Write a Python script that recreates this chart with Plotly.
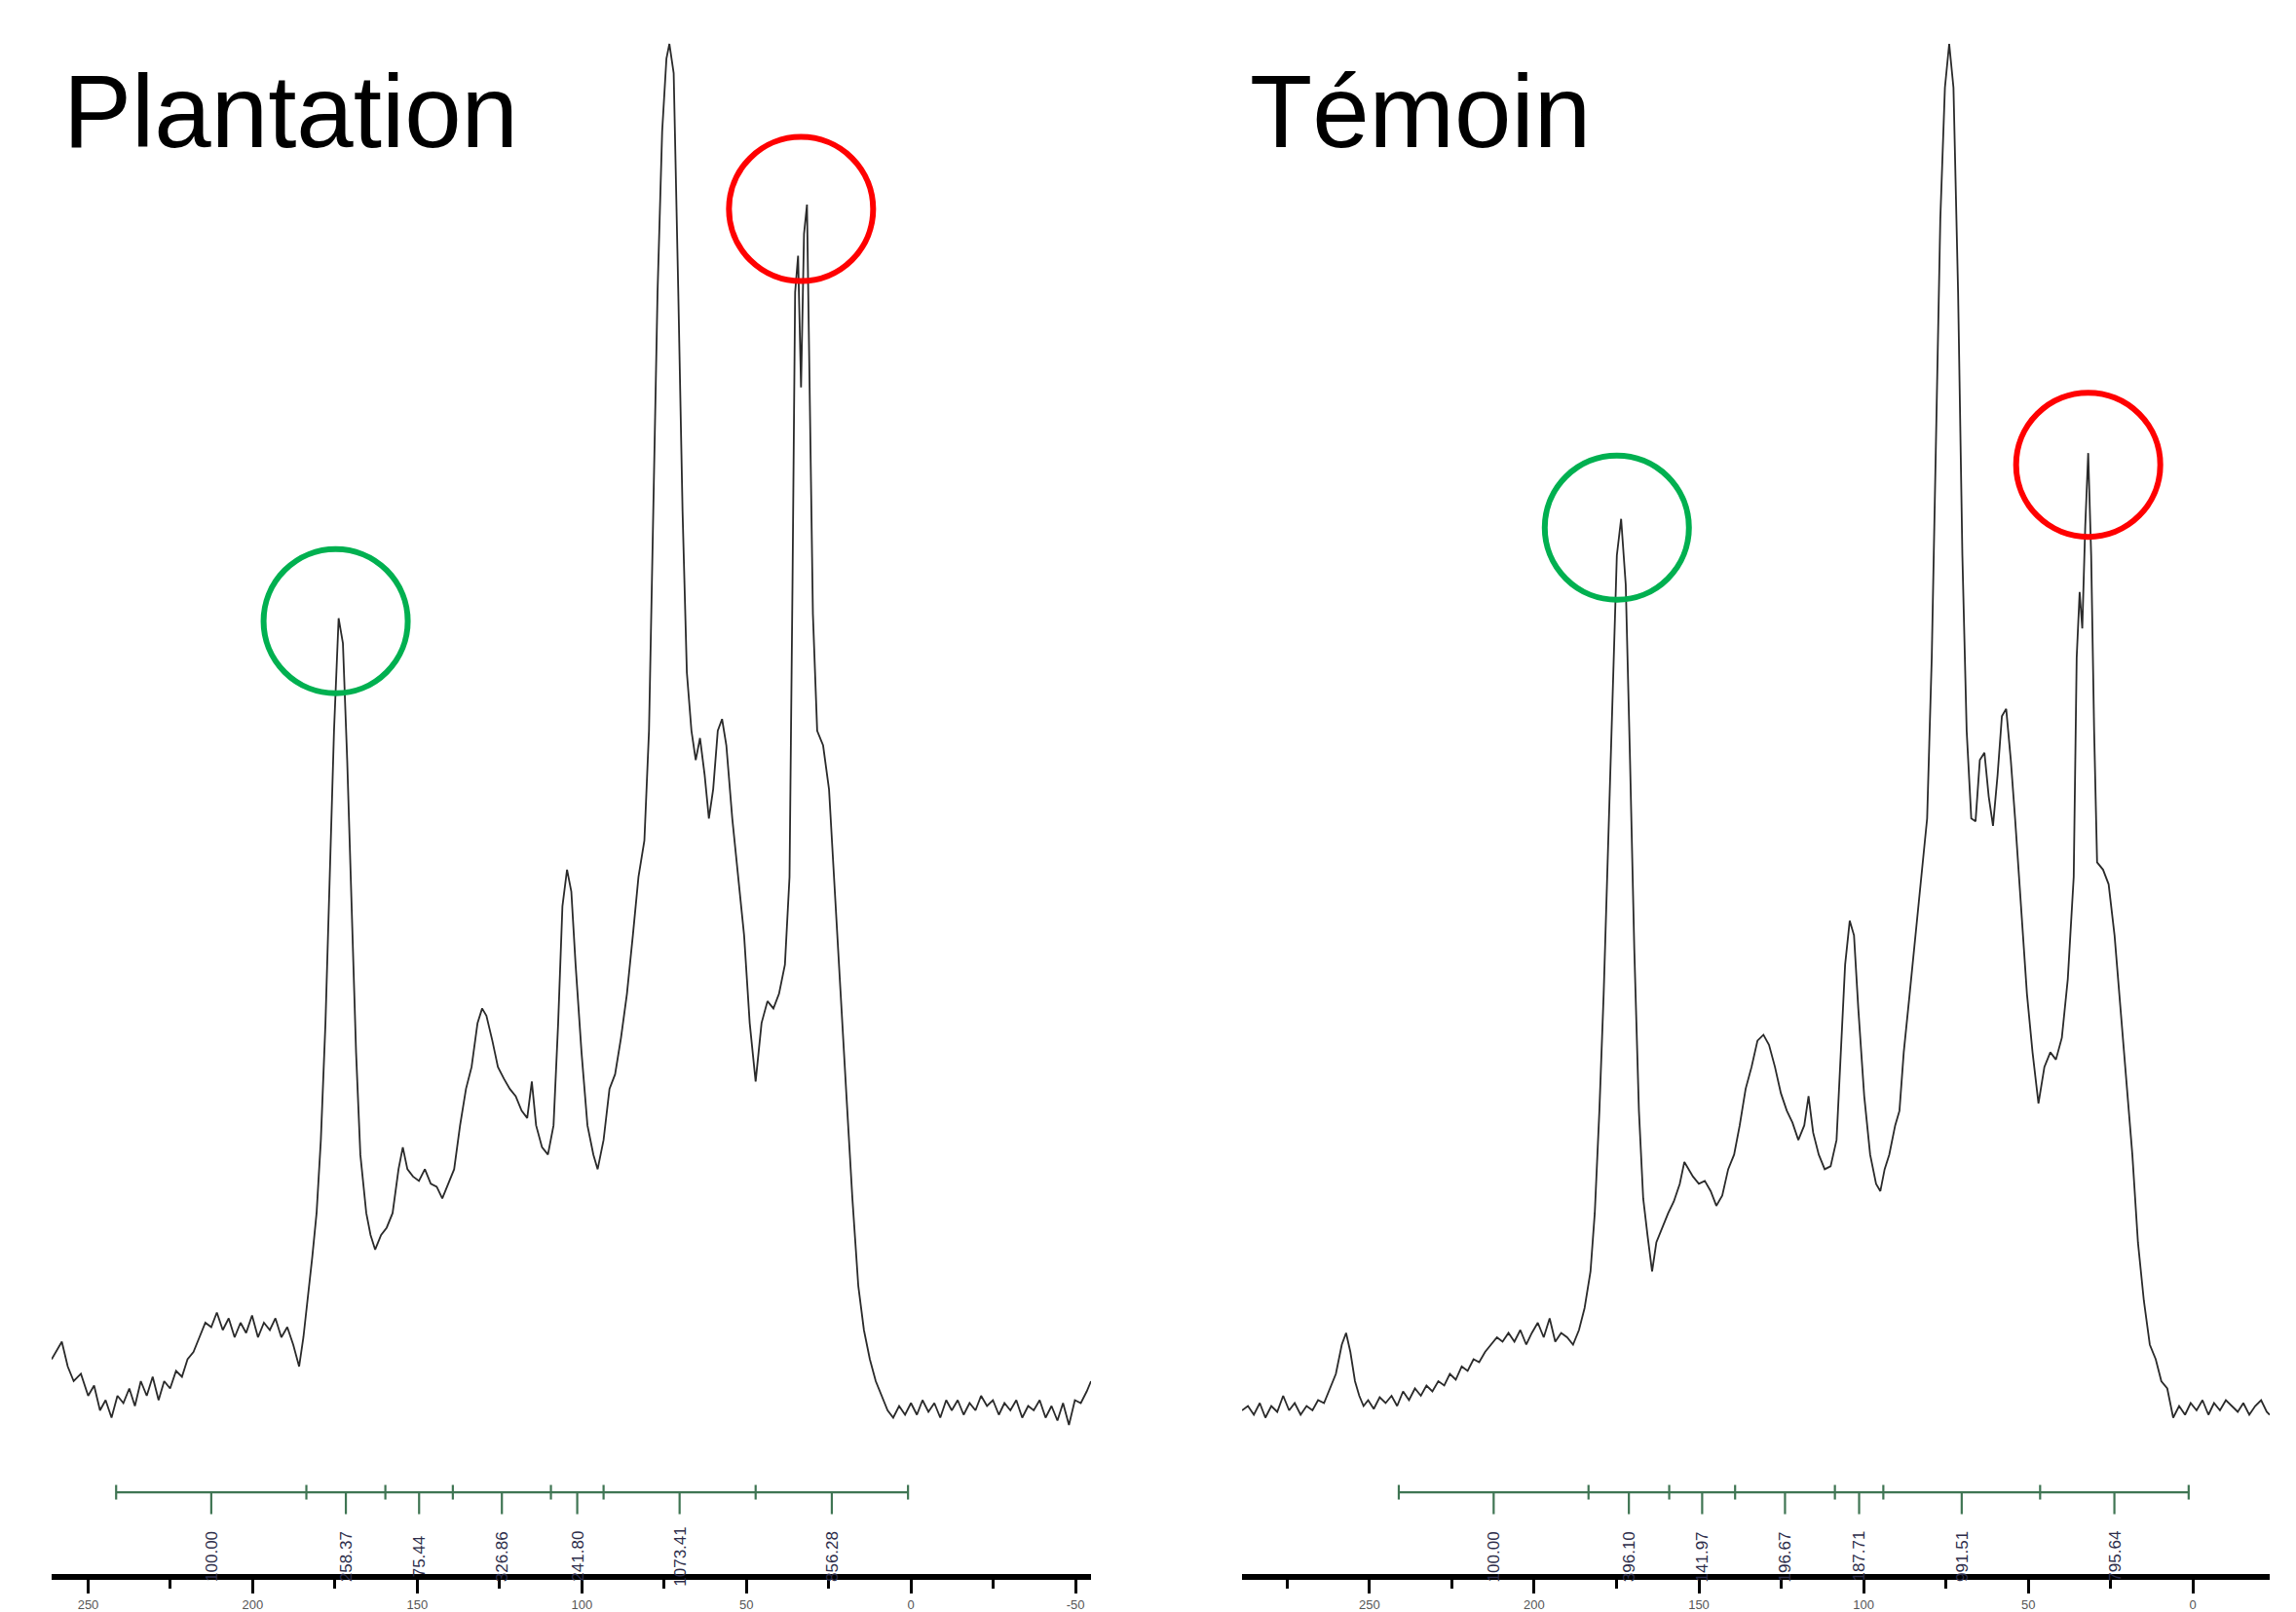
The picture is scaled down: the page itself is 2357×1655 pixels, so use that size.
import plotly.graph_objects as go

# ---------------- data (13C NMR spectra, ppm vs intensity) ----------------
plantation_ppm = [261.1, 259.8, 258.0, 256.2, 254.4, 252.2, 250.0, 248.2, 246.4, 244.7, 242.9, 241.1,
                  239.3, 237.5, 235.8, 234.0, 232.2, 230.4, 228.6, 226.9, 225.1, 223.3, 221.5, 219.8,
                  218.0, 216.2, 214.4, 212.6, 210.9, 209.1, 207.3, 205.5, 203.7, 202.0, 200.2, 198.4,
                  196.6, 194.8, 193.1, 191.3, 189.5, 187.7, 185.9, 184.6, 183.3, 181.9, 180.6, 179.3,
                  177.9, 176.6, 175.3, 173.9, 172.6, 171.3, 169.9, 168.6, 167.3, 165.5, 164.2, 162.8,
                  161.0, 159.3, 157.5, 155.7, 154.4, 153.0, 151.3, 149.5, 147.7, 145.9, 144.1, 142.4,
                  140.6, 138.8, 137.0, 135.2, 133.5, 131.7, 130.3, 129.0, 127.2, 125.5, 123.7, 121.9,
                  120.1, 118.3, 116.6, 115.2, 113.9, 112.1, 110.3, 108.6, 107.2, 105.9, 104.5, 103.2,
                  101.9, 100.1, 98.3, 96.5, 95.2, 93.4, 91.6, 89.9, 88.1, 86.3, 84.5, 82.8, 81.0,
                  79.6, 78.3, 77.0, 75.6, 74.3, 73.4, 72.1, 70.7, 69.4, 68.1, 66.7, 65.4, 64.1, 62.7,
                  61.4, 60.1, 58.7, 57.4, 56.1, 54.3, 52.5, 50.7, 49.0, 47.2, 45.4, 43.6, 41.8, 40.1,
                  38.3, 36.9, 36.0, 35.2, 34.3, 33.4, 32.5, 31.6, 30.7, 29.8, 28.5, 26.7, 24.9, 23.2,
                  21.4, 19.6, 17.8, 16.0, 14.3, 12.5, 10.7, 8.9, 7.1, 5.4, 3.6, 1.8, 0.0, -1.8, -3.5,
                  -5.3, -7.1, -8.9, -10.7, -12.4, -14.2, -16.0, -17.8, -19.6, -21.3, -23.1, -24.9,
                  -26.7, -28.4, -30.2, -32.0, -33.8, -35.6, -37.3, -39.1, -40.9, -42.7, -44.5, -46.2,
                  -48.0, -49.8, -51.6, -53.4, -54.7]
plantation_int = [70, 75, 82, 65, 55, 60, 45, 52, 35, 42, 30, 45,
                  40, 50, 38, 55, 45, 58, 42, 55, 50, 62, 58, 70,
                  75, 85, 95, 92, 102, 90, 98, 85, 95, 88, 100, 85,
                  95, 90, 98, 85, 92, 80, 65, 85, 110, 140, 170, 220,
                  300, 400, 500, 577, 560, 480, 380, 280, 210, 170, 155, 145,
                  155, 160, 170, 200, 215, 200, 195, 192, 200, 190, 188, 180,
                  190, 200, 230, 255, 270, 300, 310, 305, 288, 270, 262, 255,
                  250, 240, 235, 260, 230, 215, 210, 230, 300, 380, 405, 390,
                  340, 280, 230, 210, 200, 220, 255, 265, 290, 320, 360, 400, 425,
                  500, 650, 800, 910, 960, 970, 950, 800, 650, 540, 500, 480, 495, 470,
                  440, 460, 500, 508, 490, 440, 400, 360, 300, 260, 300, 315, 310, 320,
                  340, 400, 600, 800, 825, 735, 840, 860, 720, 580, 500, 490, 460, 390,
                  320, 250, 180, 120, 90, 70, 55, 45, 35, 30, 38, 32, 40, 32, 42,
                  34, 40, 30, 42, 35, 42, 32, 40, 35, 45, 38, 42,
                  32, 40, 35, 42, 30, 38, 35, 42, 30, 38, 28, 40,
                  25, 42, 40, 48, 55]

temoin_ppm = [288.7, 286.9, 285.1, 283.3, 281.6, 279.8, 278.0, 276.2, 274.4, 272.7, 270.9, 269.1,
              267.3, 265.6, 263.8, 262.0, 260.2, 258.4, 257.1, 255.8, 254.4, 253.1, 251.8, 250.4,
              248.7, 246.9, 245.1, 243.3, 241.6, 239.8, 238.0, 236.2, 234.4, 232.7, 230.9, 229.1,
              227.3, 225.6, 223.8, 222.0, 220.2, 218.4, 216.7, 214.9, 213.1, 211.3, 209.6, 207.8,
              206.0, 204.2, 202.4, 200.7, 198.9, 197.1, 195.3, 193.6, 191.8, 190.0, 188.2, 186.4,
              184.7, 182.9, 181.6, 180.2, 178.9, 177.6, 176.2, 174.9, 173.6, 172.2, 170.9, 169.6,
              168.2, 166.9, 165.6, 164.2, 162.9, 161.1, 159.3, 157.6, 155.8, 154.4, 153.1, 151.8,
              150.0, 148.2, 146.4, 144.7, 142.9, 141.1, 139.3, 137.6, 135.8, 134.0, 132.2, 130.4,
              128.7, 126.9, 125.1, 123.3, 121.6, 119.8, 118.0, 116.7, 115.3, 113.6, 111.8, 110.0,
              108.2, 106.9, 105.6, 104.2, 102.9, 101.6, 99.8, 98.0, 96.2, 94.9, 93.6, 92.2,
              90.4, 89.1, 87.8, 86.0, 84.2, 82.4, 80.7, 79.3, 78.0, 76.7, 75.3, 74.0,
              72.7, 71.3, 70.0, 68.7, 67.3, 66.0, 64.7, 63.3, 62.0, 60.7, 59.3, 58.0,
              56.7, 55.3, 54.0, 52.2, 50.4, 48.7, 46.9, 45.1, 43.3, 41.6, 39.8, 38.0,
              36.2, 35.3, 34.4, 33.6, 32.7, 31.8, 30.9, 30.0, 29.1, 27.3, 25.6, 23.8,
              22.0, 20.2, 18.4, 16.7, 14.9, 13.1, 11.3, 9.6, 7.8, 6.0, 4.2, 2.4,
              0.7, -1.1, -2.9, -4.7, -6.4, -8.2, -10.0, -11.8, -13.6, -15.3, -17.1, -18.9,
              -20.7, -22.4, -23.3]
temoin_int = [35, 38, 32, 40, 30, 38, 34, 45, 35, 40, 32, 38,
              35, 42, 40, 50, 60, 80, 88, 75, 55, 45, 38, 42,
              36, 44, 40, 45, 38, 48, 42, 50, 45, 52, 48, 55,
              52, 60, 56, 65, 62, 70, 68, 75, 80, 85, 82, 88,
              82, 90, 80, 88, 95, 85, 98, 82, 88, 85, 80, 90,
              105, 130, 170, 240, 320, 420, 530, 620, 645, 600, 480, 350,
              240, 180, 155, 130, 150, 160, 170, 178, 190, 205, 200, 195,
              190, 192, 185, 175, 182, 200, 210, 230, 255, 270, 288, 292,
              285, 270, 252, 240, 232, 220, 230, 250, 225, 210, 200, 202,
              220, 280, 340, 370, 360, 310, 250, 210, 190, 185, 200, 210,
              230, 240, 280, 320, 360, 400, 440, 550, 700, 850, 940, 970,
              940, 800, 620, 500, 440, 438, 480, 485, 455, 435, 470, 510,
              515, 480, 440, 380, 320, 280, 245, 270, 280, 275, 290, 330,
              400, 550, 595, 570, 640, 690, 620, 500, 410, 405, 395, 360,
              310, 260, 210, 150, 110, 80, 70, 55, 50, 30, 38, 32,
              40, 35, 42, 32, 40, 35, 42, 38, 34, 40, 32, 38,
              42, 34, 32]

panel_titles = ["Plantation", "Témoin"]

# integration regions (ppm boundaries) and integral values
plantation_int_bounds = [241.5, 183.7, 159.7, 139.2, 109.4, 93.4, 47.2, 0.9]
plantation_int_labels = ["100.00", "258.37", "75.44", "326.86", "241.80", "1073.41", "856.28"]
temoin_int_bounds = [241.1, 183.5, 159.0, 139.0, 108.7, 94.0, 46.4, 1.3]
temoin_int_labels = ["100.00", "396.10", "141.97", "196.67", "187.71", "991.51", "795.64"]

# highlighted peaks (centre ppm, intensity)
plantation_green = (174.8, 575)
plantation_red = (33.4, 857)
temoin_green = (174.9, 639)
temoin_red = (31.8, 682)

# axis ticks
plantation_ticks = [250, 200, 150, 100, 50, 0, -50]
temoin_ticks = [250, 200, 150, 100, 50, 0]

# ---------------- figure ----------------
W, H = 2357, 1655
BAR_Y = -21
STEM_Y = -36
LABEL_Y = -65
YMIN, YMAX = -77, 1000
SPEC_COLOR = "#2a2a2a"
BAR_COLOR = "#3f7553"
LABEL_COLOR = "#2d2d4a"

fig = go.Figure()

panels = [
    dict(ppm=plantation_ppm, inten=plantation_int, bounds=plantation_int_bounds,
         labels=plantation_int_labels, green=plantation_green, red=plantation_red,
         xa="x", ya="y"),
    dict(ppm=temoin_ppm, inten=temoin_int, bounds=temoin_int_bounds,
         labels=temoin_int_labels, green=temoin_green, red=temoin_red,
         xa="x2", ya="y2"),
]

annotations = []
shapes = []
for p in panels:
    fig.add_trace(go.Scatter(x=p["ppm"], y=p["inten"], mode="lines",
                             line=dict(color=SPEC_COLOR, width=1.8),
                             xaxis=p["xa"], yaxis=p["ya"], showlegend=False, hoverinfo="skip"))
    b = p["bounds"]
    # integration bar with end ticks
    bx, by = [b[0], b[-1]], [BAR_Y, BAR_Y]
    for v in b:
        bx += [None, v, v]
        by += [None, BAR_Y + 5, BAR_Y - 5]
    mids = [(b[i] + b[i + 1]) / 2 for i in range(len(b) - 1)]
    for m in mids:
        bx += [None, m, m]
        by += [None, BAR_Y, STEM_Y]
    fig.add_trace(go.Scatter(x=bx, y=by, mode="lines",
                             line=dict(color=BAR_COLOR, width=2.2),
                             xaxis=p["xa"], yaxis=p["ya"], showlegend=False, hoverinfo="skip"))
    for m, lab in zip(mids, p["labels"]):
        annotations.append(dict(x=m, y=LABEL_Y, xref=p["xa"], yref=p["ya"], text=lab,
                                showarrow=False, textangle=-90,
                                font=dict(family="Liberation Sans", size=17, color=LABEL_COLOR)))
    for (cx, cy), col in ((p["green"], "#00B050"), (p["red"], "#FF0000")):
        shapes.append(dict(type="circle", xref=p["xa"], yref=p["ya"],
                           xsizemode="pixel", ysizemode="pixel",
                           xanchor=cx, yanchor=cy, x0=-74, x1=74, y0=-74, y1=74,
                           line=dict(color=col, width=6)))

title_pos = [63 / W, 1281 / W]
for t, xp in zip(panel_titles, title_pos):
    annotations.append(dict(x=xp, y=1 - 115 / H, xref="paper", yref="paper", text=t,
                            showarrow=False, xanchor="left", yanchor="middle",
                            font=dict(family="Liberation Sans, Arial", size=105, color="black")))

ydom = [(H - 1619) / H, 1]

def xaxis(domain, rng, ticks, anchor):
    return dict(domain=domain, range=rng, anchor=anchor, showgrid=False, zeroline=False,
                showline=True, linecolor="black", linewidth=6,
                tickmode="array", tickvals=ticks, ticktext=[str(t) for t in ticks],
                ticks="outside", ticklen=14, tickwidth=3, tickcolor="black",
                tickfont=dict(family="Liberation Sans", size=13, color="#555"),
                minor=dict(dtick=25, tick0=0, ticks="outside", ticklen=9, tickwidth=3,
                           tickcolor="black", showgrid=False))

def yaxis(anchor):
    return dict(domain=ydom, range=[YMIN, YMAX], anchor=anchor, visible=False,
                showgrid=False, zeroline=False, fixedrange=True)

fig.update_layout(
    width=W, height=H,
    margin=dict(l=0, r=0, t=0, b=0),
    paper_bgcolor="white", plot_bgcolor="white",
    xaxis=xaxis([53 / W, 1120 / W], [261.1, -54.7], plantation_ticks, "y"),
    xaxis2=xaxis([1275 / W, 2330 / W], [288.7, -23.3], temoin_ticks, "y2"),
    yaxis=yaxis("x"),
    yaxis2=yaxis("x2"),
    annotations=annotations,
    shapes=shapes,
    showlegend=False,
)

fig.write_html("out.html",
               config={"displayModeBar": False},
               post_script="document.body.style.margin='0px';document.body.style.overflow='hidden';")
